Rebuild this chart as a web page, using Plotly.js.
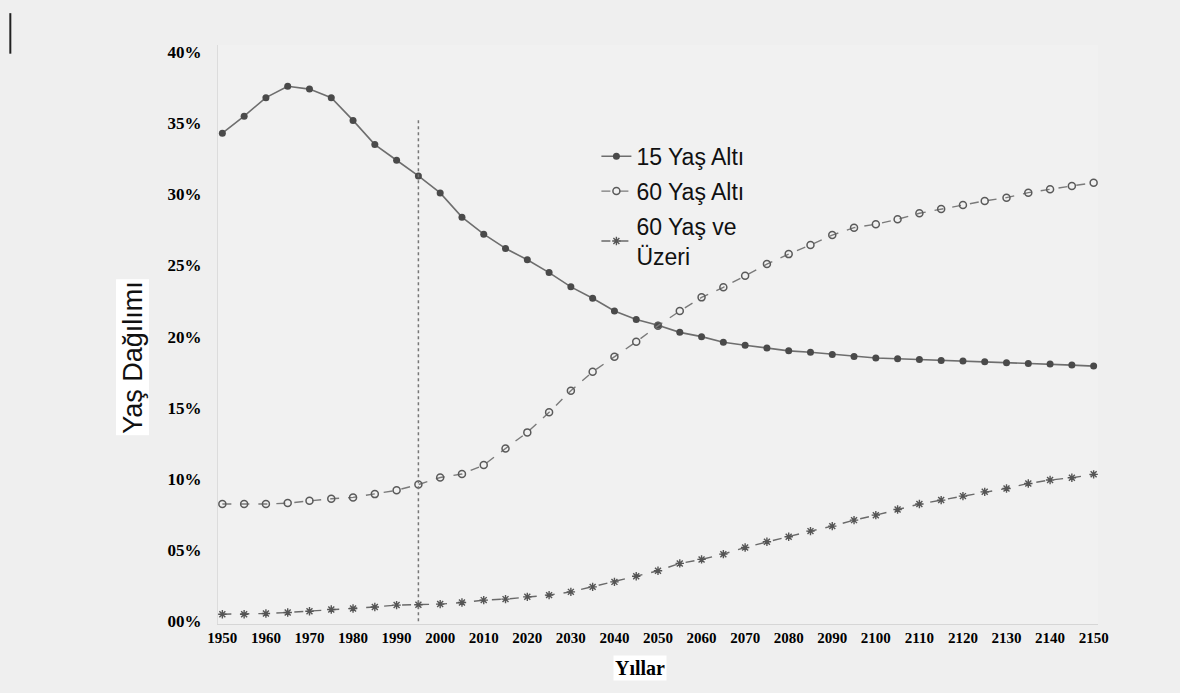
<!DOCTYPE html>
<html>
<head>
<meta charset="utf-8">
<script src="https://cdn.plot.ly/plotly-3.0.1.min.js"></script>
<style>
  html, body { margin: 0; padding: 0; background: #efefef; }
  #chart { width: 1180px; height: 693px; }
</style>
</head>
<body>
<div id="chart"></div>
<script>
const years = [1950,1955,1960,1965,1970,1975,1980,1985,1990,1995,
               2000,2005,2010,2015,2020,2025,2030,2035,2040,2045,
               2050,2055,2060,2065,2070,2075,2080,2085,2090,2095,
               2100,2105,2110,2115,2120,2125,2130,2135,2140,2145,2150];

const under15 = [34.3,35.5,36.8,37.6,37.4,36.8,35.2,33.5,32.4,31.3,
                 30.1,28.4,27.2,26.2,25.4,24.5,23.5,22.7,21.8,21.2,
                 20.8,20.3,20.0,19.6,19.4,19.2,19.0,18.9,18.75,18.6,
                 18.5,18.45,18.4,18.33,18.28,18.23,18.16,18.12,18.07,18.0,17.93];

const under60 = [8.23,8.23,8.23,8.3,8.46,8.6,8.7,8.93,9.2,9.6,
                 10.1,10.34,10.97,12.14,13.27,14.68,16.2,17.53,18.59,19.64,
                 20.77,21.8,22.76,23.47,24.28,25.1,25.8,26.44,27.14,27.66,
                 27.9,28.25,28.67,28.97,29.25,29.54,29.77,30.12,30.36,30.59,30.82];

const over60 = [0.49,0.49,0.54,0.61,0.70,0.82,0.89,1.0,1.13,1.15,
                1.2,1.31,1.48,1.55,1.71,1.83,2.06,2.41,2.76,3.16,
                3.54,4.06,4.34,4.71,5.18,5.58,5.93,6.33,6.68,7.1,
                7.45,7.85,8.23,8.51,8.79,9.09,9.33,9.68,9.92,10.08,10.32];

const seriesNames = ["15 Yaş Altı", "60 Yaş Altı", "60 Yaş ve<br>Üzeri"];
const xTickVals = [1950,1960,1970,1980,1990,2000,2010,2020,2030,2040,2050,
                   2060,2070,2080,2090,2100,2110,2120,2130,2140,2150];
const yTickVals = [0,5,10,15,20,25,30,35,40];
const yTickText = ["00%","05%","10%","15%","20%","25%","30%","35%","40%"];
const markerYear = 1995;
const markerTop = 35.4;

const traces = [
  {
    x: years, y: under15, name: seriesNames[0], type: 'scatter', mode: 'lines+markers',
    legendgroup: 'a',
    line: {color: '#6e6e6e', width: 1.6},
    marker: {symbol: 'circle', size: 7, color: '#4a4a4a'},
    cliponaxis: false
  },
  {
    x: years, y: under60, name: seriesNames[1], type: 'scatter', mode: 'lines+markers',
    legendgroup: 'b',
    line: {color: '#7a7a7a', width: 1.4, dash: 'dash'},
    marker: {symbol: 'circle-open', size: 7, color: '#5a5a5a', line: {width: 1.5, color: '#5a5a5a'}},
    cliponaxis: false
  },
  {
    x: years, y: over60, name: seriesNames[2], type: 'scatter', mode: 'lines+markers',
    legendgroup: 'c',
    line: {color: '#6a6a6a', width: 1.4, dash: 'dash'},
    marker: {symbol: 'asterisk-open', size: 7, color: '#555', line: {width: 1.4, color: '#555'}},
    cliponaxis: false
  }
];

const layout = {
  width: 1180, height: 693,
  paper_bgcolor: '#efefef',
  plot_bgcolor: '#f1f1f1',
  margin: {l: 218, r: 82, t: 45, b: 69},
  showlegend: true,
  legend: {
    x: 0.43, y: 0.845, xanchor: 'left', yanchor: 'top',
    bgcolor: 'rgba(0,0,0,0)',
    font: {family: 'Liberation Sans, Arial, sans-serif', size: 23, color: '#111'},
    tracegroupgap: 2,
    itemwidth: 30
  },
  xaxis: {
    range: [1949, 2151],
    tickvals: xTickVals,
    showgrid: false, zeroline: false,
    showline: true, linecolor: '#d6d6d6', linewidth: 1,
    ticks: '',
    tickfont: {family: 'Liberation Serif, Times New Roman, serif', size: 15, color: '#000', weight: 'bold'}
  },
  yaxis: {
    range: [-0.2, 40.5],
    tickvals: yTickVals, ticktext: yTickText,
    showgrid: false, zeroline: false,
    showline: true, linecolor: '#dcdcdc', linewidth: 1,
    ticks: '',
    ticklabelstandoff: 12,
    tickfont: {family: 'Liberation Serif, Times New Roman, serif', size: 17, color: '#000', weight: 'bold'}
  },
  shapes: [
    {type: 'line', xref: 'x', yref: 'y', x0: markerYear, x1: markerYear, y0: 0, y1: markerTop,
     line: {color: '#777', width: 1.5, dash: 'dot'}},
    {type: 'line', xref: 'paper', yref: 'paper', x0: -0.236, x1: -0.236, y0: 1.055, y1: 0.985,
     line: {color: '#222', width: 2}}
  ],
  annotations: [
    {text: 'Yaş Dağılımı', xref: 'paper', yref: 'paper', x: -0.097, y: 0.461,
     xanchor: 'center', yanchor: 'middle', textangle: -90, showarrow: false,
     bgcolor: '#ffffff',
     font: {family: 'Liberation Sans, Arial, sans-serif', size: 27, color: '#111'}},
    {text: '<b>Yıllar</b>', xref: 'paper', yref: 'paper', x: 0.48, y: -0.076,
     xanchor: 'center', yanchor: 'middle', showarrow: false,
     bgcolor: '#ffffff',
     font: {family: 'Liberation Serif, Times New Roman, serif', size: 20, color: '#000'}}
  ]
};

Plotly.newPlot('chart', traces, layout, {displayModeBar: false, staticPlot: true});
</script>
</body>
</html>
